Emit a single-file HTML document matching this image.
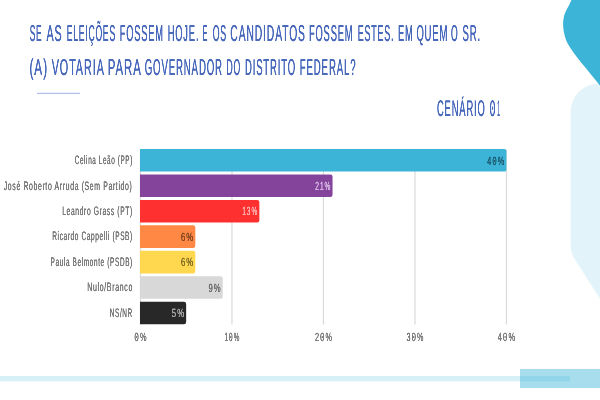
<!DOCTYPE html>
<html lang="pt-BR"><head><meta charset="utf-8"><title>Cenário 01</title>
<style>html,body{margin:0;padding:0;background:#fff}body{position:relative;width:600px;height:400px;overflow:hidden}svg{position:absolute;left:-20px;top:-20px;filter:blur(0.6px)}text{font-family:"Liberation Sans", sans-serif;text-rendering:geometricPrecision}</style></head><body>
<svg width="640" height="440" viewBox="-20 -20 640 440">
<rect x="-20" y="-20" width="640" height="440" fill="#ffffff"/>
<path d="M620 83.5 H598.5 A28 28 0 0 0 570.7 111.5 V245 Q570.7 253 574.2 258.5 L600 298.7 L620 329.9 Z" fill="#3cb4d8" fill-opacity="0.15"/>
<path d="M577.50 -12.00 C576.50 -10.00 573.00 -3.04 571.50 0.00 C570.00 3.04 569.54 4.17 568.50 6.25 C567.46 8.33 566.08 10.42 565.25 12.50 C564.42 14.58 563.86 16.67 563.50 18.75 C563.14 20.83 563.06 22.92 563.10 25.00 C563.14 27.08 563.33 28.96 563.75 31.25 C564.17 33.54 564.85 36.56 565.60 38.75 C566.35 40.94 567.10 42.36 568.25 44.40 C569.40 46.44 570.67 48.40 572.50 51.00 C574.33 53.60 574.62 54.27 579.20 60.00 C583.78 65.73 593.20 77.08 600.00 85.40 C606.80 93.72 616.67 105.82 620.00 109.90 V-20 H577.5 Z" fill="#3cb4d8"/>
<rect x="-20" y="376" width="590" height="5.4" fill="#3cb4d8" fill-opacity="0.2"/>
<rect x="520" y="369" width="100" height="19" fill="#3cb4d8" fill-opacity="0.45"/>
<defs><filter id="tw" x="-5%" y="-30%" width="110%" height="160%" color-interpolation-filters="sRGB"><feGaussianBlur stdDeviation="0.45 0.1"/><feComponentTransfer><feFuncA type="linear" slope="1.5"/></feComponentTransfer></filter><filter id="lw" x="-5%" y="-30%" width="110%" height="160%" color-interpolation-filters="sRGB"><feGaussianBlur stdDeviation="0.4 0.15"/><feComponentTransfer><feFuncA type="linear" slope="1.8"/></feComponentTransfer></filter></defs>
<g fill="#4a6abc" filter="url(#tw)">
<text y="40.80" font-size="23.00" letter-spacing="2.00"><tspan x="29.70" textLength="12.60" lengthAdjust="spacingAndGlyphs">SE</tspan> <tspan x="46.40" textLength="16.20" lengthAdjust="spacingAndGlyphs">AS</tspan> <tspan x="66.70" textLength="49.20" lengthAdjust="spacingAndGlyphs">ELEIÇÕES</tspan> <tspan x="119.70" textLength="44.20" lengthAdjust="spacingAndGlyphs">FOSSEM</tspan> <tspan x="167.70" textLength="31.60" lengthAdjust="spacingAndGlyphs">HOJE.</tspan> <tspan x="202.70" textLength="5.20" lengthAdjust="spacingAndGlyphs">E</tspan> <tspan x="212.70" textLength="14.20" lengthAdjust="spacingAndGlyphs">OS</tspan> <tspan x="230.30" textLength="75.60" lengthAdjust="spacingAndGlyphs">CANDIDATOS</tspan> <tspan x="309.00" textLength="44.40" lengthAdjust="spacingAndGlyphs">FOSSEM</tspan> <tspan x="357.70" textLength="36.50" lengthAdjust="spacingAndGlyphs">ESTES.</tspan> <tspan x="398.00" textLength="15.60" lengthAdjust="spacingAndGlyphs">EM</tspan> <tspan x="416.40" textLength="31.80" lengthAdjust="spacingAndGlyphs">QUEM</tspan> <tspan x="451.00" textLength="7.50" lengthAdjust="spacingAndGlyphs">O</tspan> <tspan x="462.40" textLength="18.50" lengthAdjust="spacingAndGlyphs">SR.</tspan></text>
<text y="74.60" font-size="23.00" letter-spacing="2.00"><tspan x="29.40" textLength="18.80" lengthAdjust="spacingAndGlyphs">(A)</tspan> <tspan x="51.70" textLength="52.50" lengthAdjust="spacingAndGlyphs">VOTARIA</tspan> <tspan x="107.70" textLength="33.50" lengthAdjust="spacingAndGlyphs">PARA</tspan> <tspan x="144.70" textLength="78.20" lengthAdjust="spacingAndGlyphs">GOVERNADOR</tspan> <tspan x="226.40" textLength="14.50" lengthAdjust="spacingAndGlyphs">DO</tspan> <tspan x="245.00" textLength="50.90" lengthAdjust="spacingAndGlyphs">DISTRITO</tspan> <tspan x="299.70" textLength="56.80" lengthAdjust="spacingAndGlyphs">FEDERAL?</tspan></text>
<text y="116.30" font-size="22.60" letter-spacing="2.00"><tspan x="437.00" textLength="48.60" lengthAdjust="spacingAndGlyphs">CENÁRIO</tspan> <tspan x="489.40" textLength="6.90" lengthAdjust="spacingAndGlyphs" font-family="'Liberation Mono', monospace" font-size="23.62">0</tspan><tspan x="497.30" textLength="3.00" lengthAdjust="spacingAndGlyphs">1</tspan></text>
</g>
<rect x="37" y="92.75" width="43" height="1.3" fill="#b4c0ea"/>
<rect x="139.85" y="149.5" width="1.2" height="175.0" fill="#dadada"/>
<rect x="231.35" y="149.5" width="1.2" height="175.0" fill="#dadada"/>
<rect x="322.85" y="149.5" width="1.2" height="175.0" fill="#dadada"/>
<rect x="414.35" y="149.5" width="1.2" height="175.0" fill="#dadada"/>
<rect x="505.85" y="149.5" width="1.2" height="175.0" fill="#dadada"/>
<path d="M140.00 149.00 H504.20 Q506.40 149.00 506.40 151.20 V169.40 Q506.40 171.60 504.20 171.60 H140.00 Z" fill="#3cb4d8"/>
<path d="M140.00 174.45 H330.35 Q332.55 174.45 332.55 176.65 V194.85 Q332.55 197.05 330.35 197.05 H140.00 Z" fill="#84449c"/>
<path d="M140.00 199.90 H257.15 Q259.35 199.90 259.35 202.10 V220.30 Q259.35 222.50 257.15 222.50 H140.00 Z" fill="#ff3030"/>
<path d="M140.00 225.35 H193.10 Q195.30 225.35 195.30 227.55 V245.75 Q195.30 247.95 193.10 247.95 H140.00 Z" fill="#ff8844"/>
<path d="M140.00 250.80 H193.10 Q195.30 250.80 195.30 253.00 V271.20 Q195.30 273.40 193.10 273.40 H140.00 Z" fill="#ffd850"/>
<path d="M140.00 276.25 H220.55 Q222.75 276.25 222.75 278.45 V296.65 Q222.75 298.85 220.55 298.85 H140.00 Z" fill="#d8d8d8"/>
<path d="M140.00 301.70 H183.95 Q186.15 301.70 186.15 303.90 V322.10 Q186.15 324.30 183.95 324.30 H140.00 Z" fill="#282828"/>
<g filter="url(#lw)">
<text transform="translate(74.75 164.05) scale(0.5149 1)" font-size="12.30" letter-spacing="1.20" fill="#808080">Celina Leão (PP)</text>
<text transform="translate(487.25 164.50) scale(0.6058 1)" font-size="11.90" letter-spacing="1.70" fill="#1e5f74">4<tspan font-family="'Liberation Mono', monospace" font-size="12.44">0</tspan>%</text>
<text transform="translate(3.75 189.50) scale(0.5558 1)" font-size="12.30" letter-spacing="1.20" fill="#808080">José Roberto Arruda (Sem Partido)</text>
<text transform="translate(315.30 189.95) scale(0.5548 1)" font-size="11.90" letter-spacing="1.70" fill="#d2b0e0">21%</text>
<text transform="translate(62.25 214.95) scale(0.5423 1)" font-size="12.30" letter-spacing="1.20" fill="#808080">Leandro Grass (PT)</text>
<text transform="translate(242.30 215.40) scale(0.5474 1)" font-size="11.90" letter-spacing="1.70" fill="#ffa4a4">13%</text>
<text transform="translate(52.25 240.40) scale(0.5275 1)" font-size="12.30" letter-spacing="1.20" fill="#808080">Ricardo Cappelli (PSB)</text>
<text transform="translate(180.95 240.85) scale(0.6455 1)" font-size="11.90" letter-spacing="1.70" fill="#8a4a24">6%</text>
<text transform="translate(50.55 265.85) scale(0.5239 1)" font-size="12.30" letter-spacing="1.20" fill="#808080">Paula Belmonte (PSDB)</text>
<text transform="translate(180.95 266.30) scale(0.6455 1)" font-size="11.90" letter-spacing="1.70" fill="#8a7428">6%</text>
<text transform="translate(87.25 291.30) scale(0.5647 1)" font-size="12.30" letter-spacing="1.20" fill="#808080">Nulo/Branco</text>
<text transform="translate(208.40 291.75) scale(0.6455 1)" font-size="11.90" letter-spacing="1.70" fill="#767676">9%</text>
<text transform="translate(109.75 316.75) scale(0.5224 1)" font-size="12.30" letter-spacing="1.20" fill="#808080">NS/NR</text>
<text transform="translate(171.80 317.20) scale(0.6455 1)" font-size="11.90" letter-spacing="1.70" fill="#a0a0a0">5%</text>
<text transform="translate(134.28 340.90) scale(0.6205 1)" font-size="11.90" letter-spacing="1.70" fill="#808080"><tspan font-family="'Liberation Mono', monospace" font-size="12.44">0</tspan>%</text>
<text transform="translate(224.40 340.90) scale(0.5345 1)" font-size="11.90" letter-spacing="1.70" fill="#808080">1<tspan font-family="'Liberation Mono', monospace" font-size="12.44">0</tspan>%</text>
<text transform="translate(314.90 340.90) scale(0.6058 1)" font-size="11.90" letter-spacing="1.70" fill="#808080">2<tspan font-family="'Liberation Mono', monospace" font-size="12.44">0</tspan>%</text>
<text transform="translate(406.40 340.90) scale(0.6058 1)" font-size="11.90" letter-spacing="1.70" fill="#808080">3<tspan font-family="'Liberation Mono', monospace" font-size="12.44">0</tspan>%</text>
<text transform="translate(497.65 340.90) scale(0.6236 1)" font-size="11.90" letter-spacing="1.70" fill="#808080">4<tspan font-family="'Liberation Mono', monospace" font-size="12.44">0</tspan>%</text>
</g>
</svg></body></html>
